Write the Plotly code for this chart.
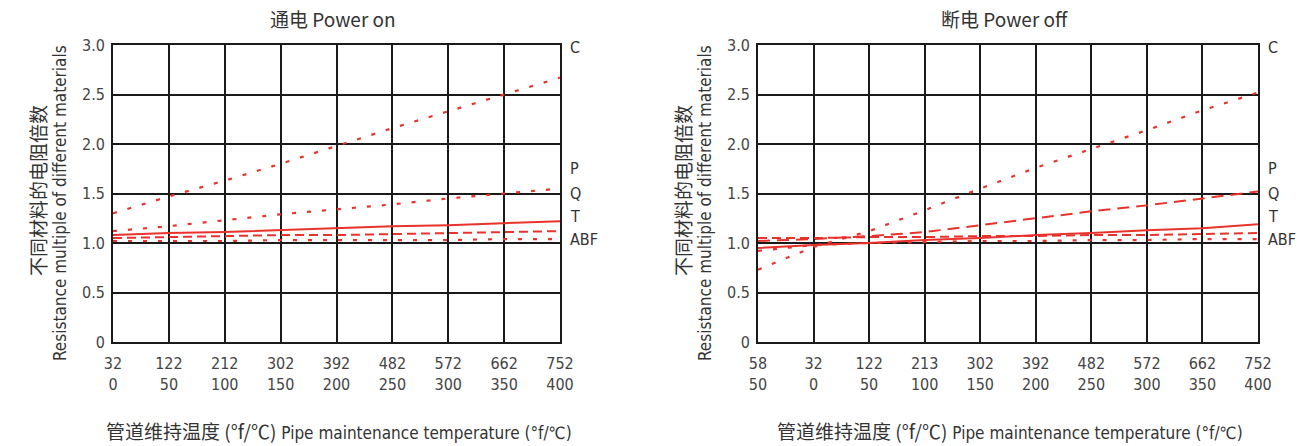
import plotly.graph_objects as go

# ---------------- data ----------------
# Power on (left): temperature in °C and matching °F tick labels
on_c = [0, 50, 100, 150, 200, 250, 300, 350, 400]
on_f = ["32", "122", "212", "302", "392", "482", "572", "662", "752"]
on_c_lbl = ["0", "50", "100", "150", "200", "250", "300", "350", "400"]
on_C = [1.30, 1.47, 1.63, 1.80, 1.98, 2.16, 2.33, 2.50, 2.67]
on_P = [1.12, 1.17, 1.23, 1.29, 1.34, 1.39, 1.45, 1.50, 1.55]
on_Q = [1.08, 1.10, 1.11, 1.13, 1.15, 1.17, 1.18, 1.20, 1.22]
on_T = [1.05, 1.06, 1.07, 1.08, 1.08, 1.09, 1.10, 1.11, 1.12]
on_ABF = [1.02, 1.02, 1.02, 1.03, 1.03, 1.03, 1.03, 1.04, 1.04]

# Power off (right)
off_c = [-50, 0, 50, 100, 150, 200, 250, 300, 350, 400]
off_f = ["58", "32", "122", "213", "302", "392", "482", "572", "662", "752"]
off_c_lbl = ["50", "0", "50", "100", "150", "200", "250", "300", "350", "400"]
off_C = [0.73, 0.96, 1.12, 1.33, 1.55, 1.76, 1.95, 2.14, 2.34, 2.52]
off_P = [1.02, 1.04, 1.07, 1.11, 1.18, 1.25, 1.32, 1.38, 1.45, 1.52]
off_Q = [0.95, 0.98, 1.00, 1.03, 1.05, 1.08, 1.10, 1.13, 1.15, 1.19]
off_T = [1.05, 1.05, 1.06, 1.06, 1.07, 1.07, 1.08, 1.08, 1.09, 1.10]
off_ABF = [0.92, 0.98, 1.00, 1.01, 1.02, 1.02, 1.03, 1.03, 1.04, 1.04]

y_ticks = [0, 0.5, 1.0, 1.5, 2.0, 2.5, 3.0]
y_ticktext = ["0", "0.5", "1.0", "1.5", "2.0", "2.5", "3.0"]
series_labels = ["C", "P", "Q", "T", "ABF"]

# ---------------- styling ----------------
RED = "#e8322c"
FONT = "Liberation Sans Narrow, DejaVu Sans Condensed, Liberation Sans, sans-serif"
CJK = "Noto Sans CJK SC"
TXT = "#444444"
W, H = 1312, 446

DOT = dict(dash="4px,11px", width=2.2)
SOLID = dict(dash="solid", width=2.0)
DASH = dict(dash="9px,5px", width=2.0)
LONGDASH = dict(dash="12px,7px", width=2.0)

styles_on = {"C": DOT, "P": DOT, "Q": SOLID, "T": DASH, "ABF": DOT}
styles_off = {"C": DOT, "P": LONGDASH, "Q": SOLID, "T": DASH, "ABF": DOT}

fig = go.Figure()

def add_series(xs, ys_list, styles, xa, ya):
    for name, ys in zip(series_labels, ys_list):
        st = styles[name]
        fig.add_trace(go.Scatter(
            x=xs, y=ys, mode="lines", name=name, xaxis=xa, yaxis=ya,
            line=dict(color=RED, width=st["width"], dash=st["dash"]),
            showlegend=False, hoverinfo="skip"))

add_series(on_c, [on_C, on_P, on_Q, on_T, on_ABF], styles_on, "x", "y")
add_series(off_c, [off_C, off_P, off_Q, off_T, off_ABF], styles_off, "x2", "y2")

def px_x(x):
    return x / W

def px_y(y):
    return 1 - y / H

y_dom = [px_y(342), px_y(45)]
L = (113, 560)
R = (758, 1258)

axis_common = dict(
    showline=True, linecolor="#1a1a1a", linewidth=1.6, mirror=True,
    showgrid=True, gridcolor="#1a1a1a", gridwidth=1.6, zeroline=False,
    ticks="", automargin=False,
    tickfont=dict(family=FONT, size=16, color=TXT),
)

fig.update_layout(
    width=W, height=H,
    margin=dict(l=0, r=0, t=0, b=0),
    paper_bgcolor="white", plot_bgcolor="white",
    xaxis=dict(domain=[px_x(L[0]), px_x(L[1])], range=[0, 400],
               tickvals=on_c, ticktext=[f"{f}<br>{c}" for f, c in zip(on_f, on_c_lbl)],
               anchor="y", ticklabelstandoff=6, **axis_common),
    yaxis=dict(domain=y_dom, range=[0, 3], tickvals=y_ticks, ticktext=y_ticktext,
               anchor="x", ticklabelstandoff=3, **axis_common),
    xaxis2=dict(domain=[px_x(R[0]), px_x(R[1])], range=[-50, 400],
                tickvals=off_c, ticktext=[f"{f}<br>{c}" for f, c in zip(off_f, off_c_lbl)],
                anchor="y2", ticklabelstandoff=6, **axis_common),
    yaxis2=dict(domain=y_dom, range=[0, 3], tickvals=y_ticks, ticktext=y_ticktext,
                anchor="x2", ticklabelstandoff=3, **axis_common),
)

ann = []

def text(x, y, t, size=15, family=FONT, xanchor="center", angle=0, color=TXT):
    ann.append(dict(x=px_x(x), y=px_y(y), xref="paper", yref="paper", text=t,
                    showarrow=False, xanchor=xanchor, yanchor="middle",
                    textangle=angle,
                    font=dict(family=family, size=size, color=color)))

for (x0, x1), title in [(L, "通电 Power on"), (R, "断电 Power off")]:
    cx = (x0 + x1) / 2
    text(cx - 4, 18, title, size=19, family=CJK, color="#333")
    xlabel = ('<span style="font-family:Noto Sans CJK SC;font-size:19px">管道维持温度 (°f/℃)</span>'
              ' <span style="font-size:17px">Pipe maintenance temperature (°f/℃)</span>')
    text(cx + 2, 430, xlabel, size=17, color="#333")
    # y-axis titles
    text(x0 - 76, 191, "不同材料的电阻倍数", size=19, family=CJK, angle=-90, color="#333")
    text(x0 - 53, 203, "Resistance multiple of different materials", size=17, angle=-90, color="#333")
    # series labels at right
    for lab, yy in zip(series_labels, [48, 168, 193, 217, 239]):
        text(x1 + 8, yy, lab, size=16, xanchor="left", color="#333")

fig.update_layout(annotations=ann)
fig.write_html("out.html", config={"displayModeBar": False},
               post_script="document.body.style.margin='0';document.body.style.padding='0';")
